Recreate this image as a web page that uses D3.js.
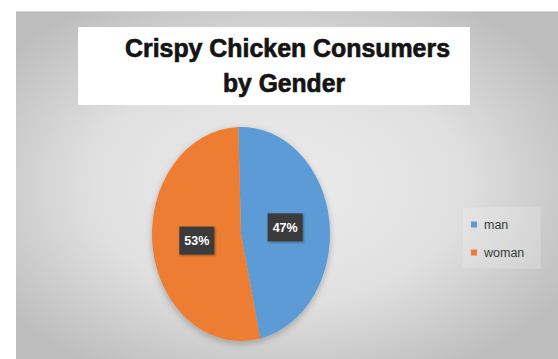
<!DOCTYPE html>
<html>
<head>
<meta charset="utf-8">
<script src="https://cdn.jsdelivr.net/npm/d3@7"></script>
<style>
  html, body { margin: 0; padding: 0; background: #ffffff; }
  svg { display: block; }
</style>
</head>
<body>
<svg id="chart" width="558" height="359"></svg>
<script>
// Consumers of crispy chicken, share by gender
const categories = ["man", "woman"];
const shares = [47, 53];
const colors = ["#5b9bd5", "#ed7d31"];
const titleLines = ["Crispy Chicken Consumers", "by Gender"];

const svg = d3.select("#chart");
const defs = svg.append("defs");

// Grey card background: light in the middle, darker toward the edges
const bg = defs.append("radialGradient")
  .attr("id", "cardBg").attr("cx", "48%").attr("cy", "50%").attr("r", "62%");
bg.append("stop").attr("offset", "0%").attr("stop-color", "#ececec");
bg.append("stop").attr("offset", "55%").attr("stop-color", "#e0e0e0");
bg.append("stop").attr("offset", "100%").attr("stop-color", "#bdbdbd");

const shadow = defs.append("filter").attr("id", "pieShadow")
  .attr("x", "-20%").attr("y", "-20%").attr("width", "140%").attr("height", "140%");
shadow.append("feDropShadow").attr("dx", 0).attr("dy", 2)
  .attr("stdDeviation", 3).attr("flood-color", "#000").attr("flood-opacity", 0.25);

const lblShadow = defs.append("filter").attr("id", "lblShadow")
  .attr("x", "-30%").attr("y", "-30%").attr("width", "160%").attr("height", "160%");
lblShadow.append("feDropShadow").attr("dx", 1).attr("dy", 1)
  .attr("stdDeviation", 1.2).attr("flood-color", "#000").attr("flood-opacity", 0.35);

svg.append("rect")
  .attr("x", 16).attr("y", 11).attr("width", 542).attr("height", 348)
  .attr("fill", "url(#cardBg)");
svg.append("line")
  .attr("x1", 16).attr("x2", 558).attr("y1", 11.5).attr("y2", 11.5)
  .attr("stroke", "#d6d6d6").attr("stroke-width", 1);

// Title block (condensed heavy face)
svg.append("rect")
  .attr("x", 78).attr("y", 27).attr("width", 392).attr("height", 78)
  .attr("fill", "#ffffff");
const titleWidths = [325, 122];
svg.append("g").selectAll("text")
  .data(titleLines)
  .join("text")
  .attr("x", (d, i) => i === 0 ? 287.5 : 284)
  .attr("y", (d, i) => 57 + i * 35)
  .attr("text-anchor", "middle")
  .attr("font-family", "'Liberation Sans', Arial, sans-serif")
  .attr("font-weight", "bold")
  .attr("font-size", 26.5)
  .attr("textLength", (d, i) => titleWidths[i])
  .attr("lengthAdjust", "spacingAndGlyphs")
  .attr("fill", "#141414")
  .attr("stroke", "#141414")
  .attr("stroke-width", 0.7)
  .text(d => d);

// Pie, stretched vertically into an ellipse
const cx = 241, cy = 234, rx = 89, ry = 107;
const pie = d3.pie().sort(null).startAngle(-0.03).endAngle(2 * Math.PI - 0.03);
const arcs = pie(shares);
const arc = d3.arc().innerRadius(0).outerRadius(rx);

const pieG = svg.append("g")
  .attr("transform", `translate(${cx},${cy}) scale(1,${ry / rx})`)
  .attr("filter", "url(#pieShadow)");
pieG.selectAll("path")
  .data(arcs)
  .join("path")
  .attr("d", arc)
  .attr("fill", (d, i) => colors[i]);

// Value labels in dark boxes
const labelArc = d3.arc().innerRadius(rx * 0.5).outerRadius(rx * 0.5);
const labels = svg.append("g");
arcs.forEach((d, i) => {
  const [lx, ly] = labelArc.centroid(d);
  const px = cx + lx, py = cy + ly * (ry / rx);
  const g = labels.append("g").attr("transform", `translate(${px},${py})`);
  g.append("rect")
    .attr("x", -17.5).attr("y", -14).attr("width", 35).attr("height", 28)
    .attr("fill", "#3b3b3b").attr("filter", "url(#lblShadow)");
  g.append("text")
    .attr("text-anchor", "middle").attr("dy", "0.35em")
    .attr("font-family", "'Liberation Sans', Arial, sans-serif")
    .attr("font-weight", "bold").attr("font-size", 12.5)
    .attr("fill", "#ffffff")
    .text(shares[i] + "%");
});

// Legend
const legend = svg.append("g").attr("transform", "translate(462,207)");
legend.append("rect")
  .attr("x", 0).attr("y", 0).attr("width", 78).attr("height", 61)
  .attr("fill", "#ffffff").attr("fill-opacity", 0.2)
  .attr("stroke", "#d8d8d8").attr("stroke-width", 0.8);
const items = legend.selectAll("g.item")
  .data(categories)
  .join("g").attr("class", "item")
  .attr("transform", (d, i) => `translate(9,${17.5 + i * 28})`);
items.append("rect")
  .attr("x", 0).attr("y", -3).attr("width", 6).attr("height", 6)
  .attr("fill", (d, i) => colors[i]);
items.append("text")
  .attr("x", 13).attr("dy", "0.35em")
  .attr("font-family", "'Liberation Sans', Arial, sans-serif")
  .attr("font-size", 12.5)
  .attr("fill", "#3a3a3a")
  .text(d => d);
</script>
</body>
</html>
